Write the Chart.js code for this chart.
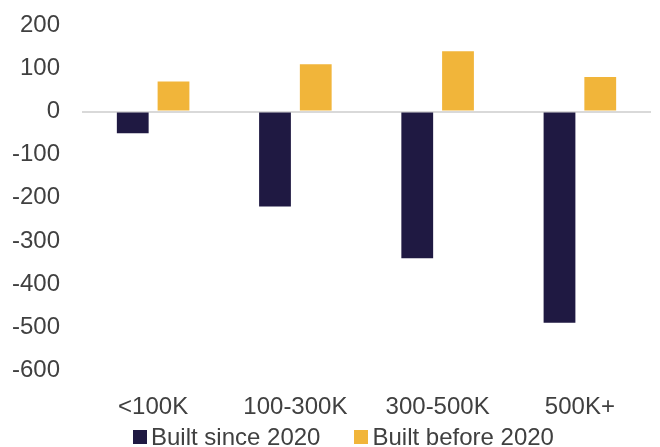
<!DOCTYPE html>
<html>
<head>
<meta charset="utf-8">
<script src="https://cdn.jsdelivr.net/npm/chart.js@4.4.1/dist/chart.umd.min.js"></script>
<style>
  html, body { margin: 0; padding: 0; background: #ffffff; }
  #wrap { position: relative; width: 660px; height: 447px; overflow: hidden; }
  #canvasBox { position: absolute; left: 0; top: -11px; width: 660px; height: 458px; }
  #legend {
    position: absolute; left: 133px; top: 423px;
    display: flex; align-items: center;
    font-family: "Liberation Sans", Arial, sans-serif; font-size: 24px; color: #404040;
    line-height: 28px; white-space: nowrap;
  }
  #legend .item { display: flex; align-items: center; margin-right: 34px; }
  #legend .box { width: 14px; height: 14px; margin-right: 4px; }
</style>
</head>
<body>
<div id="wrap">
  <div id="canvasBox"><canvas id="chart"></canvas></div>
  <div id="legend"></div>
</div>
<script>
// Categories and series
const categories = ['<100K', '100-300K', '300-500K', '500K+'];
const seriesNames = ['Built since 2020', 'Built before 2020'];
const builtSince = [-50, -220, -340, -490];
const builtBefore = [70, 110, 140, 80];
const yTicks = [-600, -500, -400, -300, -200, -100, 0, 100, 200];

const colors = ['#1f1942', '#f1b53a'];
const textColor = '#404040';
const fontFamily = '"Liberation Sans", Arial, sans-serif';

// legend drawn as html so the box/text spacing matches
const legendEl = document.getElementById('legend');
seriesNames.forEach((name, i) => {
    const item = document.createElement('div');
    item.className = 'item';
    const box = document.createElement('span');
    box.className = 'box';
    box.style.background = colors[i];
    const txt = document.createElement('span');
    txt.textContent = name;
    item.appendChild(box);
    item.appendChild(txt);
    legendEl.appendChild(item);
});

const ctx = document.getElementById('chart');
new Chart(ctx, {
    type: 'bar',
    data: {
        labels: categories,
        datasets: [
            { label: seriesNames[0], data: builtSince, backgroundColor: colors[0] },
            { label: seriesNames[1], data: builtBefore, backgroundColor: colors[1] }
        ]
    },
    options: {
        responsive: true,
        maintainAspectRatio: false,
        animation: false,
        layout: { padding: { top: 2, left: 0, right: 9, bottom: 2 } },
        datasets: {
            bar: { categoryPercentage: 0.573, barPercentage: 0.78 }
        },
        plugins: {
            tooltip: { enabled: false },
            legend: { display: false }
        },
        scales: {
            x: {
                grid: { display: false, drawTicks: false },
                border: { display: false },
                ticks: {
                    color: textColor,
                    padding: 23,
                    font: { family: fontFamily, size: 24 }
                }
            },
            y: {
                min: yTicks[0],
                max: yTicks[yTicks.length - 1],
                border: { display: false },
                grid: {
                    drawTicks: false,
                    lineWidth: 2,
                    color: (c) => c.tick && c.tick.value === 0 ? '#d9d9d9' : 'rgba(0,0,0,0)'
                },
                ticks: {
                    stepSize: 100,
                    color: textColor,
                    padding: 22,
                    font: { family: fontFamily, size: 24 }
                },
                afterFit: (s) => { s.width = 82; }
            }
        }
    }
});
</script>
</body>
</html>
